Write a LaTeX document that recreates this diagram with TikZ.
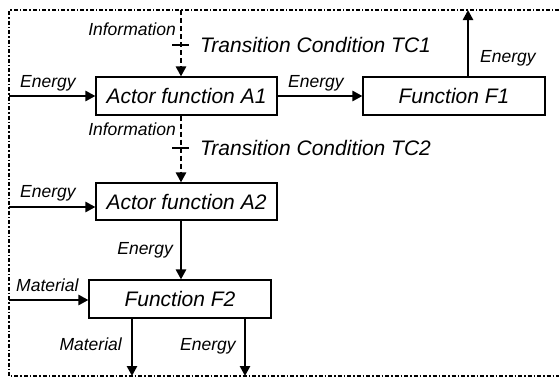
\documentclass[tikz,border=0pt]{standalone}
\usepackage{fontspec}
\setmainfont{Liberation Sans}
\usetikzlibrary{arrows.meta}
\begin{document}
\begin{tikzpicture}[x=1pt,y=-1pt,
  fnbox/.style={draw,line width=1.1pt,rectangle,inner sep=0pt,
    minimum height=38pt,font=\fontsize{21}{24}\selectfont\itshape},
  lbl/.style={inner sep=0pt,font=\fontsize{17.5}{20}\selectfont\itshape},
  bigtxt/.style={inner sep=0pt,font=\fontsize{21}{24}\selectfont\itshape},
  flow/.style={line width=2.6pt,-{Triangle[length=10pt,width=10pt]}},
  infoflow/.style={line width=2.4pt,dash pattern=on 5pt off 3pt,
    -{Triangle[length=10pt,width=10pt]}},
  tick/.style={line width=1.8pt},
  boundary/.style={line width=1.8pt,dash pattern=on 4pt off 2pt on 1.5pt off 2pt}]
\useasboundingbox (0,0) rectangle (559,381);

% system boundary, open to the right
\coordinate (bTR) at (559,10);
\coordinate (bTL) at (9,10);
\coordinate (bBL) at (9,376);
\coordinate (bBR) at (559,376);
\draw[boundary] (bTR) -- (bTL) -- (bBL) -- (bBR);

% function blocks
\node[fnbox,minimum width=181pt] (A1) at (186.5,96) {Actor function A1};
\node[fnbox,minimum width=182pt] (F1) at (454,96) {Function F1};
\node[fnbox,minimum width=181pt,minimum height=37pt] (A2) at (186.5,201.5) {Actor function A2};
\node[fnbox,minimum width=182pt] (F2) at (180,299) {Function F2};

% free ends of the flows
\coordinate (infoIn) at (181,10);
\coordinate (eInA1) at (9,96);
\coordinate (eOutF1) at (468,10);
\coordinate (eInA2) at (9,207);
\coordinate (mInF2) at (9,300);
\coordinate (mOutF2) at (132,376);
\coordinate (eOutF2) at (245,376);
\coordinate (tc1) at (181,45);
\coordinate (tc2) at (181,148);

% information flows with transition conditions
\draw[infoflow] (infoIn) -- (A1.north -| infoIn);
\draw[tick] ([xshift=-9pt]tc1) -- ([xshift=8pt]tc1);
\draw[infoflow] (A1.south -| infoIn) -- (A2.north -| infoIn);
\draw[tick] ([xshift=-9pt]tc2) -- ([xshift=8pt]tc2);

% energy and material flows
\draw[flow] (eInA1) -- (A1.west);
\draw[flow] (A1.east) -- (F1.west);
\draw[flow] (F1.north -| eOutF1) -- (eOutF1);
\draw[flow] (eInA2) -- (A2.west |- eInA2);
\draw[flow] (A2.south -| infoIn) -- (F2.north -| infoIn);
\draw[flow] (mInF2) -- (F2.west |- mInF2);
\draw[flow] (F2.south -| mOutF2) -- (mOutF2);
\draw[flow] (F2.south -| eOutF2) -- (eOutF2);

% labels
\node[lbl,anchor=base east] (lInfo1) at (176,35) {Information};
\node[bigtxt,anchor=base west] (lTC1) at (200,52.5) {Transition Condition TC1};
\node[lbl,anchor=base east] (lInfo2) at (176,135.5) {Information};
\node[bigtxt,anchor=base west] (lTC2) at (200,155.5) {Transition Condition TC2};
\node[lbl,anchor=base west] (lEA1) at (20,87) {Energy};
\node[lbl,anchor=base west] (lEA1F1) at (288,87) {Energy};
\node[lbl,anchor=base west] (lEF1) at (480,62) {Energy};
\node[lbl,anchor=base west] (lEA2) at (20,197) {Energy};
\node[lbl,anchor=base east] (lEA2F2) at (173,254) {Energy};
\node[lbl,anchor=base west] (lMF2) at (16,291) {Material};
\node[lbl,anchor=base east] (lMOut) at (122,350) {Material};
\node[lbl,anchor=base west] (lEOut) at (180,350) {Energy};
\end{tikzpicture}
\end{document}
